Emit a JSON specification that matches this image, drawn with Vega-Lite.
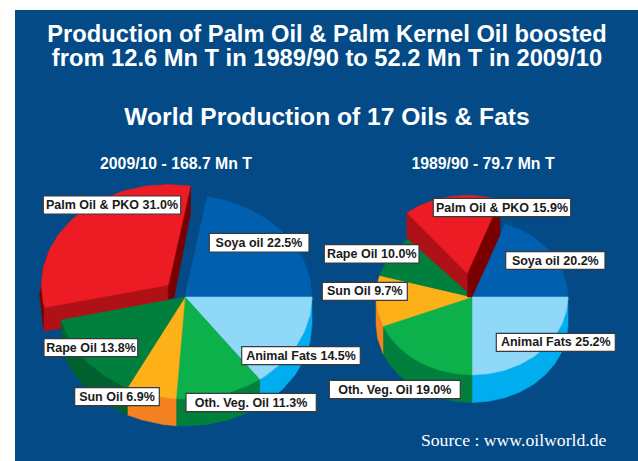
{"$schema":"https://vega.github.io/schema/vega-lite/v6.json","width":638,"height":461,"padding":0,"autosize":{"type":"fit","contains":"padding"},"background":"white","view":{"stroke":null},
"datasets":{
"panel":[{"x":15,"x2":638,"y":10,"y2":461}],
"wedges":[
{"part":"L palm side","kind":"Palm side","x":49,"y":250.6,"i":1},{"part":"L palm side","kind":"Palm side","x":43.2,"y":267.5,"i":2},{"part":"L palm side","kind":"Palm side","x":41.3,"y":285,"i":3},{"part":"L palm side","kind":"Palm side","x":43.2,"y":302.5,"i":4},{"part":"L palm side","kind":"Palm side","x":44.6,"y":307.6,"i":5},{"part":"L palm side","kind":"Palm side","x":44.6,"y":331.6,"i":6},{"part":"L palm side","kind":"Palm side","x":43.2,"y":326.5,"i":7},{"part":"L palm side","kind":"Palm side","x":41.3,"y":309,"i":8},{"part":"L palm side","kind":"Palm side","x":39.5,"y":295,"i":9},
{"part":"L palm cut","kind":"Palm cut","x":168.3,"y":285,"i":1},{"part":"L palm cut","kind":"Palm cut","x":44,"y":307.6,"i":2},{"part":"L palm cut","kind":"Palm cut","x":44,"y":331.6,"i":3},{"part":"L palm cut","kind":"Palm cut","x":168.3,"y":309,"i":4},
{"part":"L palm inner","kind":"Palm side","x":190.5,"y":186,"i":1},{"part":"L palm inner","kind":"Palm side","x":190.5,"y":213,"i":2},{"part":"L palm inner","kind":"Palm side","x":174,"y":298,"i":3},{"part":"L palm inner","kind":"Palm side","x":168.3,"y":299,"i":4},{"part":"L palm inner","kind":"Palm side","x":168.3,"y":285,"i":5},
{"part":"L palm","kind":"Palm","x":168.3,"y":285,"i":0},{"part":"L palm","kind":"Palm","x":190.5,"y":186,"i":1},{"part":"L palm","kind":"Palm","x":168.3,"y":184.5,"i":2},{"part":"L palm","kind":"Palm","x":146.2,"y":186,"i":3},{"part":"L palm","kind":"Palm","x":124.9,"y":190.6,"i":4},{"part":"L palm","kind":"Palm","x":104.8,"y":198,"i":5},{"part":"L palm","kind":"Palm","x":86.7,"y":208,"i":6},{"part":"L palm","kind":"Palm","x":71,"y":220.4,"i":7},{"part":"L palm","kind":"Palm","x":58.3,"y":234.8,"i":8},{"part":"L palm","kind":"Palm","x":49,"y":250.6,"i":9},{"part":"L palm","kind":"Palm","x":43.2,"y":267.5,"i":10},{"part":"L palm","kind":"Palm","x":41.3,"y":285,"i":11},{"part":"L palm","kind":"Palm","x":43.2,"y":302.5,"i":12},{"part":"L palm","kind":"Palm","x":44.6,"y":307.6,"i":13},
{"part":"L fats wall","kind":"Fats wall","x":312,"y":297,"i":1},{"part":"L fats wall","kind":"Fats wall","x":310.1,"y":314.7,"i":2},{"part":"L fats wall","kind":"Fats wall","x":304.3,"y":331.9,"i":3},{"part":"L fats wall","kind":"Fats wall","x":295,"y":348,"i":4},{"part":"L fats wall","kind":"Fats wall","x":282.3,"y":362.6,"i":5},{"part":"L fats wall","kind":"Fats wall","x":266.6,"y":375.1,"i":6},{"part":"L fats wall","kind":"Fats wall","x":259.7,"y":379.5,"i":7},{"part":"L fats wall","kind":"Fats wall","x":259.7,"y":406.5,"i":8},{"part":"L fats wall","kind":"Fats wall","x":266.6,"y":402.1,"i":9},{"part":"L fats wall","kind":"Fats wall","x":282.3,"y":389.6,"i":10},{"part":"L fats wall","kind":"Fats wall","x":295,"y":375,"i":11},{"part":"L fats wall","kind":"Fats wall","x":304.3,"y":358.9,"i":12},{"part":"L fats wall","kind":"Fats wall","x":310.1,"y":341.7,"i":13},{"part":"L fats wall","kind":"Fats wall","x":312,"y":324,"i":14},
{"part":"L oth wall","kind":"Oth wall","x":259.7,"y":379.5,"i":1},{"part":"L oth wall","kind":"Oth wall","x":248.5,"y":385.3,"i":2},{"part":"L oth wall","kind":"Oth wall","x":228.4,"y":392.9,"i":3},{"part":"L oth wall","kind":"Oth wall","x":207.1,"y":397.5,"i":4},{"part":"L oth wall","kind":"Oth wall","x":185,"y":399,"i":5},{"part":"L oth wall","kind":"Oth wall","x":176.1,"y":398.8,"i":6},{"part":"L oth wall","kind":"Oth wall","x":176.1,"y":425.8,"i":7},{"part":"L oth wall","kind":"Oth wall","x":185,"y":426,"i":8},{"part":"L oth wall","kind":"Oth wall","x":207.1,"y":424.5,"i":9},{"part":"L oth wall","kind":"Oth wall","x":228.4,"y":419.9,"i":10},{"part":"L oth wall","kind":"Oth wall","x":248.5,"y":412.3,"i":11},{"part":"L oth wall","kind":"Oth wall","x":259.7,"y":406.5,"i":12},
{"part":"L sun wall","kind":"Sun wall","x":176.1,"y":398.8,"i":1},{"part":"L sun wall","kind":"Sun wall","x":162.9,"y":397.5,"i":2},{"part":"L sun wall","kind":"Sun wall","x":141.6,"y":392.8,"i":3},{"part":"L sun wall","kind":"Sun wall","x":127.3,"y":387.9,"i":4},{"part":"L sun wall","kind":"Sun wall","x":127.3,"y":414.9,"i":5},{"part":"L sun wall","kind":"Sun wall","x":141.6,"y":419.8,"i":6},{"part":"L sun wall","kind":"Sun wall","x":162.9,"y":424.5,"i":7},{"part":"L sun wall","kind":"Sun wall","x":176.1,"y":425.8,"i":8},
{"part":"L rape wall","kind":"Rape wall","x":127.3,"y":387.9,"i":1},{"part":"L rape wall","kind":"Rape wall","x":121.5,"y":385.3,"i":2},{"part":"L rape wall","kind":"Rape wall","x":103.4,"y":375.1,"i":3},{"part":"L rape wall","kind":"Rape wall","x":87.7,"y":362.6,"i":4},{"part":"L rape wall","kind":"Rape wall","x":75,"y":348,"i":5},{"part":"L rape wall","kind":"Rape wall","x":65.7,"y":331.9,"i":6},{"part":"L rape wall","kind":"Rape wall","x":61.3,"y":320,"i":7},{"part":"L rape wall","kind":"Rape wall","x":61.3,"y":347,"i":8},{"part":"L rape wall","kind":"Rape wall","x":65.7,"y":358.9,"i":9},{"part":"L rape wall","kind":"Rape wall","x":75,"y":375,"i":10},{"part":"L rape wall","kind":"Rape wall","x":87.7,"y":389.6,"i":11},{"part":"L rape wall","kind":"Rape wall","x":103.4,"y":402.1,"i":12},{"part":"L rape wall","kind":"Rape wall","x":121.5,"y":412.3,"i":13},{"part":"L rape wall","kind":"Rape wall","x":127.3,"y":414.9,"i":14},
{"part":"L soya","kind":"Soya","x":185,"y":297,"i":0},{"part":"L soya","kind":"Soya","x":207.1,"y":196.5,"i":1},{"part":"L soya","kind":"Soya","x":228.4,"y":201.1,"i":2},{"part":"L soya","kind":"Soya","x":248.5,"y":208.7,"i":3},{"part":"L soya","kind":"Soya","x":266.6,"y":218.9,"i":4},{"part":"L soya","kind":"Soya","x":282.3,"y":231.4,"i":5},{"part":"L soya","kind":"Soya","x":295,"y":246,"i":6},{"part":"L soya","kind":"Soya","x":304.3,"y":262.1,"i":7},{"part":"L soya","kind":"Soya","x":310.1,"y":279.3,"i":8},{"part":"L soya","kind":"Soya","x":312,"y":297,"i":9},
{"part":"L fats","kind":"Fats","x":185,"y":297,"i":0},{"part":"L fats","kind":"Fats","x":312,"y":297,"i":1},{"part":"L fats","kind":"Fats","x":310.1,"y":314.7,"i":2},{"part":"L fats","kind":"Fats","x":304.3,"y":331.9,"i":3},{"part":"L fats","kind":"Fats","x":295,"y":348,"i":4},{"part":"L fats","kind":"Fats","x":282.3,"y":362.6,"i":5},{"part":"L fats","kind":"Fats","x":266.6,"y":375.1,"i":6},{"part":"L fats","kind":"Fats","x":259.7,"y":379.5,"i":7},
{"part":"L oth","kind":"Oth","x":185,"y":297,"i":0},{"part":"L oth","kind":"Oth","x":259.7,"y":379.5,"i":1},{"part":"L oth","kind":"Oth","x":248.5,"y":385.3,"i":2},{"part":"L oth","kind":"Oth","x":228.4,"y":392.9,"i":3},{"part":"L oth","kind":"Oth","x":207.1,"y":397.5,"i":4},{"part":"L oth","kind":"Oth","x":185,"y":399,"i":5},{"part":"L oth","kind":"Oth","x":176.1,"y":398.8,"i":6},
{"part":"L sun","kind":"Sun","x":185,"y":297,"i":0},{"part":"L sun","kind":"Sun","x":176.1,"y":398.8,"i":1},{"part":"L sun","kind":"Sun","x":162.9,"y":397.5,"i":2},{"part":"L sun","kind":"Sun","x":141.6,"y":392.8,"i":3},{"part":"L sun","kind":"Sun","x":127.3,"y":387.9,"i":4},
{"part":"L rape","kind":"Rape","x":185,"y":297,"i":0},{"part":"L rape","kind":"Rape","x":127.3,"y":387.9,"i":1},{"part":"L rape","kind":"Rape","x":121.5,"y":385.3,"i":2},{"part":"L rape","kind":"Rape","x":103.4,"y":375.1,"i":3},{"part":"L rape","kind":"Rape","x":87.7,"y":362.6,"i":4},{"part":"L rape","kind":"Rape","x":75,"y":348,"i":5},{"part":"L rape","kind":"Rape","x":65.7,"y":331.9,"i":6},{"part":"L rape","kind":"Rape","x":61.3,"y":320,"i":7},
{"part":"R fats wall","kind":"Fats wall","x":568,"y":297,"i":1},{"part":"R fats wall","kind":"Fats wall","x":566.5,"y":310.6,"i":2},{"part":"R fats wall","kind":"Fats wall","x":562.2,"y":323.7,"i":3},{"part":"R fats wall","kind":"Fats wall","x":555.1,"y":336,"i":4},{"part":"R fats wall","kind":"Fats wall","x":545.5,"y":347.1,"i":5},{"part":"R fats wall","kind":"Fats wall","x":533.7,"y":356.8,"i":6},{"part":"R fats wall","kind":"Fats wall","x":520,"y":364.5,"i":7},{"part":"R fats wall","kind":"Fats wall","x":504.8,"y":370.3,"i":8},{"part":"R fats wall","kind":"Fats wall","x":488.7,"y":373.8,"i":9},{"part":"R fats wall","kind":"Fats wall","x":472,"y":375,"i":10},{"part":"R fats wall","kind":"Fats wall","x":472,"y":402.5,"i":11},{"part":"R fats wall","kind":"Fats wall","x":488.7,"y":401.3,"i":12},{"part":"R fats wall","kind":"Fats wall","x":504.8,"y":397.8,"i":13},{"part":"R fats wall","kind":"Fats wall","x":520,"y":392,"i":14},{"part":"R fats wall","kind":"Fats wall","x":533.7,"y":384.3,"i":15},{"part":"R fats wall","kind":"Fats wall","x":545.5,"y":374.6,"i":16},{"part":"R fats wall","kind":"Fats wall","x":555.1,"y":363.5,"i":17},{"part":"R fats wall","kind":"Fats wall","x":562.2,"y":351.2,"i":18},{"part":"R fats wall","kind":"Fats wall","x":566.5,"y":338.1,"i":19},{"part":"R fats wall","kind":"Fats wall","x":568,"y":324.5,"i":20},
{"part":"R oth wall","kind":"Oth wall","x":472,"y":375,"i":1},{"part":"R oth wall","kind":"Oth wall","x":455.3,"y":373.8,"i":2},{"part":"R oth wall","kind":"Oth wall","x":439.2,"y":370.3,"i":3},{"part":"R oth wall","kind":"Oth wall","x":424,"y":364.5,"i":4},{"part":"R oth wall","kind":"Oth wall","x":410.3,"y":356.8,"i":5},{"part":"R oth wall","kind":"Oth wall","x":398.5,"y":347.1,"i":6},{"part":"R oth wall","kind":"Oth wall","x":388.9,"y":336,"i":7},{"part":"R oth wall","kind":"Oth wall","x":383,"y":326.2,"i":8},{"part":"R oth wall","kind":"Oth wall","x":383,"y":353.7,"i":9},{"part":"R oth wall","kind":"Oth wall","x":388.9,"y":363.5,"i":10},{"part":"R oth wall","kind":"Oth wall","x":398.5,"y":374.6,"i":11},{"part":"R oth wall","kind":"Oth wall","x":410.3,"y":384.3,"i":12},{"part":"R oth wall","kind":"Oth wall","x":424,"y":392,"i":13},{"part":"R oth wall","kind":"Oth wall","x":439.2,"y":397.8,"i":14},{"part":"R oth wall","kind":"Oth wall","x":455.3,"y":401.3,"i":15},{"part":"R oth wall","kind":"Oth wall","x":472,"y":402.5,"i":16},
{"part":"R sun wall","kind":"Sun wall","x":383,"y":326.2,"i":1},{"part":"R sun wall","kind":"Sun wall","x":377.5,"y":310.5,"i":2},{"part":"R sun wall","kind":"Sun wall","x":376,"y":297,"i":3},{"part":"R sun wall","kind":"Sun wall","x":376,"y":324.5,"i":4},{"part":"R sun wall","kind":"Sun wall","x":377.5,"y":338,"i":5},{"part":"R sun wall","kind":"Sun wall","x":383,"y":353.7,"i":6},
{"part":"R soya","kind":"Soya","x":472,"y":297,"i":0},{"part":"R soya","kind":"Soya","x":504.8,"y":223.7,"i":1},{"part":"R soya","kind":"Soya","x":520,"y":229.5,"i":2},{"part":"R soya","kind":"Soya","x":533.7,"y":237.2,"i":3},{"part":"R soya","kind":"Soya","x":545.5,"y":246.9,"i":4},{"part":"R soya","kind":"Soya","x":555.1,"y":258,"i":5},{"part":"R soya","kind":"Soya","x":562.2,"y":270.3,"i":6},{"part":"R soya","kind":"Soya","x":566.5,"y":283.4,"i":7},{"part":"R soya","kind":"Soya","x":568,"y":297,"i":8},
{"part":"R fats","kind":"Fats","x":472,"y":297,"i":0},{"part":"R fats","kind":"Fats","x":568,"y":297,"i":1},{"part":"R fats","kind":"Fats","x":566.5,"y":310.6,"i":2},{"part":"R fats","kind":"Fats","x":562.2,"y":323.7,"i":3},{"part":"R fats","kind":"Fats","x":555.1,"y":336,"i":4},{"part":"R fats","kind":"Fats","x":545.5,"y":347.1,"i":5},{"part":"R fats","kind":"Fats","x":533.7,"y":356.8,"i":6},{"part":"R fats","kind":"Fats","x":520,"y":364.5,"i":7},{"part":"R fats","kind":"Fats","x":504.8,"y":370.3,"i":8},{"part":"R fats","kind":"Fats","x":488.7,"y":373.8,"i":9},{"part":"R fats","kind":"Fats","x":472,"y":375,"i":10},
{"part":"R oth","kind":"Oth","x":472,"y":297,"i":0},{"part":"R oth","kind":"Oth","x":472,"y":375,"i":1},{"part":"R oth","kind":"Oth","x":455.3,"y":373.8,"i":2},{"part":"R oth","kind":"Oth","x":439.2,"y":370.3,"i":3},{"part":"R oth","kind":"Oth","x":424,"y":364.5,"i":4},{"part":"R oth","kind":"Oth","x":410.3,"y":356.8,"i":5},{"part":"R oth","kind":"Oth","x":398.5,"y":347.1,"i":6},{"part":"R oth","kind":"Oth","x":388.9,"y":336,"i":7},{"part":"R oth","kind":"Oth","x":383,"y":326.2,"i":8},
{"part":"R sun","kind":"Sun","x":472,"y":297,"i":0},{"part":"R sun","kind":"Sun","x":383,"y":326.2,"i":1},{"part":"R sun","kind":"Sun","x":377.5,"y":310.5,"i":2},{"part":"R sun","kind":"Sun","x":376,"y":297,"i":3},{"part":"R sun","kind":"Sun","x":377.5,"y":283.5,"i":4},{"part":"R sun","kind":"Sun","x":379.7,"y":275.5,"i":5},
{"part":"R rape","kind":"Rape","x":472,"y":297,"i":0},{"part":"R rape","kind":"Rape","x":379.7,"y":275.5,"i":1},{"part":"R rape","kind":"Rape","x":381.8,"y":270.3,"i":2},{"part":"R rape","kind":"Rape","x":388.9,"y":258,"i":3},{"part":"R rape","kind":"Rape","x":398.5,"y":246.9,"i":4},{"part":"R rape","kind":"Rape","x":410.3,"y":237.2,"i":5},{"part":"R rape","kind":"Rape","x":411.6,"y":236.4,"i":6},
{"part":"R palm inner","kind":"Palm side","x":467.3,"y":273.3,"i":1},{"part":"R palm inner","kind":"Palm side","x":500,"y":200,"i":2},{"part":"R palm inner","kind":"Palm side","x":500,"y":235,"i":3},{"part":"R palm inner","kind":"Palm side","x":472,"y":297,"i":4},{"part":"R palm inner","kind":"Palm side","x":467.3,"y":297,"i":5},
{"part":"R palm cut","kind":"Palm cut","x":406.9,"y":212.7,"i":1},{"part":"R palm cut","kind":"Palm cut","x":467.3,"y":273.3,"i":2},{"part":"R palm cut","kind":"Palm cut","x":467.3,"y":291.7,"i":3},{"part":"R palm cut","kind":"Palm cut","x":406.9,"y":238,"i":4},
{"part":"R palm","kind":"Palm","x":467.3,"y":273.3,"i":0},{"part":"R palm","kind":"Palm","x":500.1,"y":200,"i":1},{"part":"R palm","kind":"Palm","x":484,"y":196.5,"i":2},{"part":"R palm","kind":"Palm","x":467.3,"y":195.3,"i":3},{"part":"R palm","kind":"Palm","x":450.6,"y":196.5,"i":4},{"part":"R palm","kind":"Palm","x":434.5,"y":200,"i":5},{"part":"R palm","kind":"Palm","x":419.3,"y":205.8,"i":6},{"part":"R palm","kind":"Palm","x":406.9,"y":212.7,"i":7}
],
"labels":[
{"pie":"2009/10","label":"Palm Oil & PKO 31.0%","x":112,"y":205,"x0":43.3,"x1":180.7,"y0":196,"y1":214},
{"pie":"2009/10","label":"Soya oil 22.5%","x":259,"y":242.7,"x0":209.3,"x1":309,"y0":233.3,"y1":252},
{"pie":"2009/10","label":"Rape Oil 13.8%","x":91,"y":347.7,"x0":44,"x1":137.7,"y0":338.7,"y1":356.7},
{"pie":"2009/10","label":"Sun Oil 6.9%","x":117,"y":396.7,"x0":74.7,"x1":159.3,"y0":387.7,"y1":405.7},
{"pie":"2009/10","label":"Oth. Veg. Oil 11.3%","x":251,"y":402.5,"x0":186,"x1":316.3,"y0":393.3,"y1":411.7},
{"pie":"2009/10","label":"Animal Fats 14.5%","x":301,"y":355.7,"x0":241.7,"x1":360.3,"y0":346.7,"y1":364.7},
{"pie":"1989/90","label":"Palm Oil & PKO 15.9%","x":502,"y":207.5,"x0":433.3,"x1":570.7,"y0":198.3,"y1":216.7},
{"pie":"1989/90","label":"Soya oil 20.2%","x":555.3,"y":260.5,"x0":505.7,"x1":605,"y0":251.7,"y1":269.3},
{"pie":"1989/90","label":"Rape Oil 10.0%","x":371.7,"y":253.8,"x0":324.3,"x1":419,"y0":244.7,"y1":263},
{"pie":"1989/90","label":"Sun Oil 9.7%","x":364.8,"y":291.3,"x0":322.3,"x1":407.3,"y0":282.3,"y1":300.3},
{"pie":"1989/90","label":"Animal Fats 25.2%","x":555.8,"y":342.3,"x0":496.3,"x1":615.3,"y0":333.3,"y1":351.3},
{"pie":"1989/90","label":"Oth. Veg. Oil 19.0%","x":394.8,"y":389.5,"x0":329.3,"x1":460.3,"y0":380.3,"y1":398.7}
]},
"encoding":{"x":{"field":"x","type":"quantitative","scale":{"domain":[0,638],"nice":false,"zero":false},"axis":null},"y":{"field":"y","type":"quantitative","scale":{"domain":[461,0],"nice":false,"zero":false},"axis":null}},
"layer":[
{"data":{"name":"panel"},"mark":{"type":"rect","fill":"#034A86"},"encoding":{"x2":{"field":"x2"},"y2":{"field":"y2"}}},
{"data":{"name":"wedges"},"mark":{"type":"line","filled":true,"strokeWidth":0.5,"interpolate":"linear-closed"},"encoding":{"detail":{"field":"part"},"order":{"field":"i","type":"quantitative"},"fill":{"field":"kind","type":"nominal","legend":null,"scale":{"domain":["Soya","Fats","Fats wall","Oth","Oth wall","Sun","Sun wall","Rape","Rape wall","Palm","Palm cut","Palm side"],"range":["#0060AF","#8FD8F8","#00AEEF","#0DB14B","#00803C","#FDB018","#F58220","#00803C","#00602F","#ED1C24","#B01116","#7A0000"]}},"stroke":{"field":"kind","type":"nominal","legend":null,"scale":{"domain":["Soya","Fats","Fats wall","Oth","Oth wall","Sun","Sun wall","Rape","Rape wall","Palm","Palm cut","Palm side"],"range":["#0060AF","#8FD8F8","#00AEEF","#0DB14B","#00803C","#FDB018","#F58220","#00803C","#00602F","#ED1C24","#B01116","#7A0000"]}}}},
{"data":{"name":"labels"},"mark":{"type":"rect","fill":"white","stroke":"#3A3A3A","strokeWidth":1.2},"encoding":{"x":{"field":"x0","type":"quantitative"},"x2":{"field":"x1"},"y":{"field":"y0","type":"quantitative"},"y2":{"field":"y1"}}},
{"data":{"name":"labels"},"mark":{"type":"text","font":"Liberation Sans","fontWeight":"bold","fontSize":12.5,"fill":"#1A1A1A","align":"center","baseline":"middle"},"encoding":{"text":{"field":"label"}}},
{"data":{"values":[{"t":"Production of Palm Oil & Palm Kernel Oil boosted","x":327,"y":34.5},{"t":"from 12.6 Mn T in 1989/90 to 52.2 Mn T in 2009/10","x":327,"y":59}]},"mark":{"type":"text","font":"Liberation Sans","fontWeight":"bold","fontSize":23.7,"fill":"white","align":"center","baseline":"middle"},"encoding":{"text":{"field":"t"}}},
{"data":{"values":[{"t":"World Production of 17 Oils & Fats","x":327,"y":118}]},"mark":{"type":"text","font":"Liberation Sans","fontWeight":"bold","fontSize":24.6,"fill":"white","align":"center","baseline":"middle"},"encoding":{"text":{"field":"t"}}},
{"data":{"values":[{"t":"2009/10 - 168.7 Mn T","x":176,"y":164},{"t":"1989/90 - 79.7 Mn T","x":483,"y":164}]},"mark":{"type":"text","font":"Liberation Sans","fontWeight":"bold","fontSize":15.8,"fill":"white","align":"center","baseline":"middle"},"encoding":{"text":{"field":"t"}}},
{"data":{"values":[{"t":"Source : www.oilworld.de","x":513.7,"y":441}]},"mark":{"type":"text","font":"Liberation Serif","fontSize":17.7,"fill":"white","align":"center","baseline":"middle"},"encoding":{"text":{"field":"t"}}}
]}
